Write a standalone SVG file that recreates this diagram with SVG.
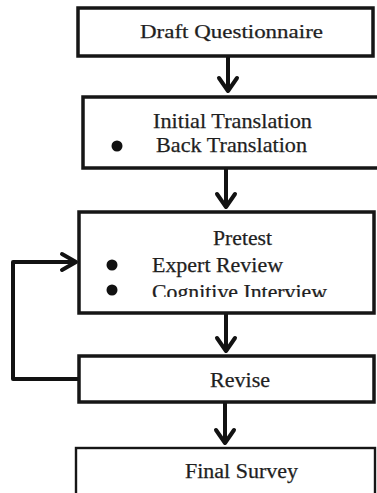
<svg xmlns="http://www.w3.org/2000/svg" width="377" height="493" viewBox="0 0 377 493">
  <style>
    .box { fill: #ffffff; stroke: #161616; stroke-width: 3.5; }
    .thin { stroke-width: 2.4; }
    .lbl { font-family: "Liberation Serif", "Times New Roman", serif; fill: #1f1f1f; stroke: #1f1f1f; stroke-width: 0.25; }
    .conn { fill: none; stroke: #121212; stroke-width: 4; stroke-linecap: round; stroke-linejoin: round; }
    .dot { fill: #111111; }
  </style>
  <defs>
    <clipPath id="pretestClip">
      <rect x="80" y="214" width="292" height="83"/>
    </clipPath>
  </defs>

  <rect width="377" height="493" fill="#ffffff"/>

  <!-- connectors -->
  <g id="connectors">
    <path class="conn" d="M228 57 V91 M219 78 L228 91 L237 78"/>
    <path class="conn" d="M226 169 V207 M217 194 L226 207 L235 194"/>
    <path class="conn" d="M226 314 V351 M217 338 L226 351 L235 338"/>
    <path class="conn" d="M225 403 V443 M216 430 L225 443 L234 430"/>
    <path class="conn" d="M78 379 H13 V262 H76 M62 254 L76 262 L62 270"/>
  </g>

  <g id="draft">
    <rect class="box" x="78" y="8" width="295" height="48"/>
    <text class="lbl" x="140" y="38" font-size="18" textLength="183" lengthAdjust="spacingAndGlyphs">Draft Questionnaire</text>
  </g>

  <g id="translation">
    <rect class="box" x="83" y="97" width="296" height="71"/>
    <text class="lbl" x="153" y="128" font-size="21" textLength="159" lengthAdjust="spacingAndGlyphs">Initial Translation</text>
    <circle class="dot" cx="117" cy="146" r="5.5"/>
    <text class="lbl" x="156" y="152" font-size="21" textLength="151" lengthAdjust="spacingAndGlyphs">Back Translation</text>
  </g>

  <g id="pretest">
    <rect class="box" x="79" y="212" width="295" height="101"/>
    <text class="lbl" x="213" y="245" font-size="20" textLength="59" lengthAdjust="spacingAndGlyphs">Pretest</text>
    <circle class="dot" cx="112" cy="265" r="5.5"/>
    <text class="lbl" x="152" y="272" font-size="20" textLength="131" lengthAdjust="spacingAndGlyphs">Expert Review</text>
    <circle class="dot" cx="112" cy="290" r="5.5"/>
    <text class="lbl" x="152" y="299" font-size="20" textLength="175" lengthAdjust="spacingAndGlyphs" clip-path="url(#pretestClip)">Cognitive Interview</text>
  </g>

  <g id="revise">
    <rect class="box" x="79" y="356" width="295" height="46"/>
    <text class="lbl" x="210" y="387" font-size="20" textLength="60" lengthAdjust="spacingAndGlyphs">Revise</text>
  </g>

  <g id="final">
    <rect class="box thin" x="76" y="448" width="299" height="60"/>
    <text class="lbl" x="185" y="478" font-size="20" textLength="113" lengthAdjust="spacingAndGlyphs">Final Survey</text>
  </g>
</svg>
